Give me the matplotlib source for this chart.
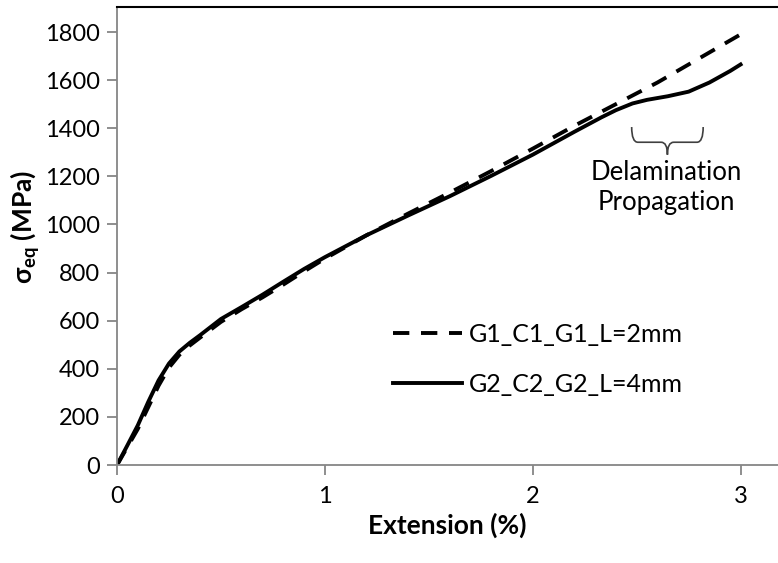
import matplotlib
matplotlib.use('Agg')
import matplotlib.pyplot as plt
from matplotlib.path import Path
from matplotlib.patches import PathPatch

plt.rcParams['font.family'] = ['Lato', 'DejaVu Sans']
plt.rcParams['mathtext.fontset'] = 'custom'
plt.rcParams['mathtext.rm'] = 'Lato'
plt.rcParams['mathtext.bf'] = 'Lato:bold'

# G1_C1_G1, L=2mm (dashed)
ext_g1 = [0, 0.05, 0.1, 0.15, 0.2, 0.25, 0.3, 0.35, 0.4, 0.5, 0.6, 0.7, 0.8, 0.9,
          1.0, 1.2, 1.4, 1.6, 1.8, 2.0, 2.2, 2.4, 2.6, 2.8, 3.0]
sig_g1 = [0, 75, 150, 240, 330, 405, 458, 497, 530, 595, 648, 697, 750, 805,
          858, 955, 1045, 1132, 1222, 1315, 1410, 1500, 1590, 1690, 1790]

# G2_C2_G2, L=4mm (solid)
ext_g2 = [0, 0.05, 0.1, 0.15, 0.2, 0.25, 0.3, 0.35, 0.4, 0.5, 0.6, 0.7, 0.8, 0.9,
          1.0, 1.2, 1.4, 1.6, 1.8, 2.0, 2.2, 2.33, 2.4, 2.48, 2.55, 2.65, 2.75,
          2.85, 2.95, 3.0]
sig_g2 = [0, 82, 165, 262, 352, 422, 472, 508, 540, 607, 657, 708, 762, 815,
          864, 955, 1037, 1117, 1202, 1290, 1385, 1445, 1475, 1503, 1518, 1533,
          1552, 1590, 1638, 1665]

labels = ['G1_C1_G1_L=2mm', 'G2_C2_G2_L=4mm']
yticks = list(range(0, 1801, 200))
xticks = [0, 1, 2, 3]

brace_x = (2.476, 2.82)
brace_y = (1405, 1290)

fig = plt.figure(figsize=(7.78, 5.63), dpi=100)
ax = fig.add_axes([0.1504, 0.174, 0.8496, 0.8136])

ax.plot(ext_g1, sig_g1, color='black', lw=2.8, dashes=(4.2, 3.0), label=labels[0])
ax.plot(ext_g2, sig_g2, color='black', lw=2.8, label=labels[1])

ax.set_xlim(0, 3.18)
ax.set_ylim(0, 1904)
ax.set_xticks(xticks)
ax.set_yticks(yticks)

grey = '#868686'
for s in ['left', 'bottom']:
    ax.spines[s].set_color(grey)
    ax.spines[s].set_linewidth(1.3)
ax.spines['right'].set_visible(False)
ax.spines['top'].set_color('black')
ax.spines['top'].set_linewidth(1.5)
ax.tick_params(axis='both', colors=grey, length=7, width=1.3, labelsize=17,
               labelcolor='black', direction='out')
ax.tick_params(axis='x', pad=8)
ax.tick_params(axis='y', pad=5)

ax.set_xlabel('Extension (%)', fontsize=19, fontweight='bold')
ax.xaxis.set_label_coords(0.5, -0.105)
ax.set_ylabel(r'σ$_{\mathbf{eq}}$ (MPa)', fontsize=19, fontweight='bold')
ax.yaxis.set_label_coords(-0.113, 0.52)

ax.legend(loc='upper left', bbox_to_anchor=(0.4175, 0.311), frameon=False,
          fontsize=18, handlelength=2.75, handletextpad=0.28, labelspacing=1.1,
          borderpad=0, borderaxespad=0)

# curly brace under the delamination segment
x0, x1 = brace_x
ytop, ytip = brace_y
xm = (x0 + x1) / 2
ymid = ytop - 0.55 * (ytop - ytip)
verts = [(x0, ytop), (x0, ymid), (x0 + 0.03, ymid),
         (xm - 0.03, ymid), (xm, ymid), (xm, ytip),
         (xm, ymid), (xm + 0.03, ymid),
         (x1 - 0.03, ymid), (x1, ymid), (x1, ytop)]
codes = [Path.MOVETO, Path.CURVE3, Path.CURVE3,
         Path.LINETO, Path.CURVE3, Path.CURVE3,
         Path.CURVE3, Path.CURVE3,
         Path.LINETO, Path.CURVE3, Path.CURVE3]
ax.add_patch(PathPatch(Path(verts, codes), fill=False, edgecolor='#404040', lw=1.2))

ax.text(2.644, 1152, 'Delamination\nPropagation', fontsize=18.5, ha='center',
        va='center', linespacing=1.25)

fig.savefig('out.png', dpi=100)
